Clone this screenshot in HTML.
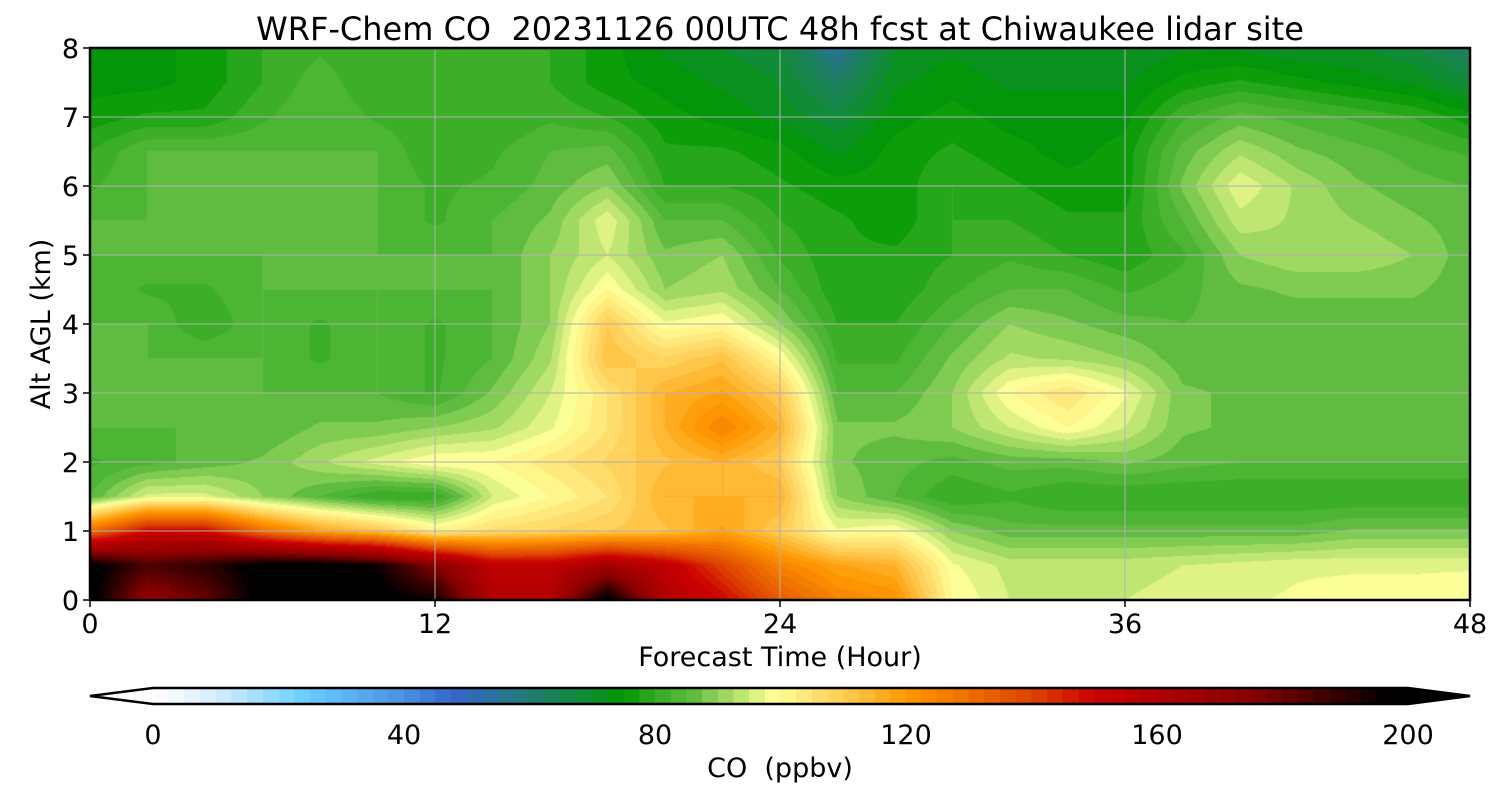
<!DOCTYPE html>
<html><head><meta charset="utf-8"><style>
body{margin:0;background:#fff;width:1500px;height:800px;position:relative;overflow:hidden;font-family:"DejaVu Sans","Liberation Sans",sans-serif}
#plot{position:absolute;left:90px;top:48px}
svg{position:absolute;left:0;top:0;font-family:"DejaVu Sans","Liberation Sans",sans-serif}
text{white-space:pre}
</style></head><body>
<canvas id="plot" width="1380" height="552"></canvas>
<svg id="ov" width="1500" height="800"></svg>
<script>
const hours=[0,2,4,6,8,10,12,14,16,18,20,22,24,26,28,30,32,34,36,38,40,42,44,46,48];
const heights=[0,0.5,1,1.5,2,2.5,3,3.5,4,4.5,5,5.5,6,6.5,7,7.5,8];
const coValues=[
[200,170,180,200,200,200,195,160,160,200,160,150,135,125,122,100,95,95,95,96,97,98,99,99,100],
[200,185,190,200,200,195,175,155,155,165,155,140,125,118,115,98,94,94,94,95,96,97,97,97,97],
[130,150,150,130,118,112,102,106,108,110,112,118,110,98,100,90,86,86,86,86,86,86,88,88,88],
[85,96,96,90,85,80,80,95,100,105,115,115,115,90,85,80,82,80,80,80,80,80,80,80,80],
[82,84,86,88,92,96,100,100,104,108,112,115,110,88,86,84,86,86,88,86,85,85,85,85,85],
[85,85,85,85,88,88,90,92,97,105,115,125,115,88,88,90,95,100,95,88,87,87,87,87,87],
[85,85,85,85,85,85,82,88,95,105,115,118,110,85,85,90,100,105,98,88,87,87,87,87,85],
[85,85,85,85,82,85,82,85,92,112,108,112,100,82,82,88,93,92,90,86,86,86,86,86,85],
[85,85,80,85,82,85,82,85,90,110,98,100,90,80,80,85,90,88,86,85,86,86,86,86,85],
[85,82,82,85,85,85,85,85,90,100,90,92,85,78,78,82,85,85,82,84,87,88,88,88,86],
[85,85,85,85,85,85,85,85,90,95,88,90,82,78,78,80,82,80,78,82,90,92,92,90,86],
[85,85,85,85,85,85,82,85,88,97,85,85,80,78,76,80,80,78,78,85,94,92,90,88,86],
[82,85,85,85,85,85,82,83,86,90,80,80,78,76,76,80,78,76,76,88,97,92,88,86,85],
[80,85,85,85,85,85,80,82,85,86,78,78,76,72,76,78,76,74,76,86,92,88,86,84,82],
[76,78,78,82,85,82,80,80,82,80,76,74,72,68,74,76,74,74,74,82,86,84,82,80,76],
[74,74,76,80,84,80,82,80,80,76,74,72,70,62,72,74,72,72,72,76,78,76,74,72,68],
[74,74,76,80,82,80,82,80,80,76,72,70,68,55,70,72,70,70,70,72,72,70,70,68,62]];
const xTicks=[0,12,24,36,48];
const yTicks=[0,1,2,3,4,5,6,7,8];
const cbTicks=[0,40,80,120,160,200];
const levelStep=2.5;
const stops=[[0,'#ffffff'],[10,'#d4eefc'],[25,'#66ccff'],[40,'#4a90e0'],[48,'#3366cc'],[60,'#237a70'],[68,'#128a3c'],[75,'#009900'],[80,'#33aa22'],[86,'#5dbb3f'],[92,'#aadd66'],[99,'#ffff99'],[110,'#ffcc55'],[120,'#ff9900'],[140,'#dd4400'],[150,'#cc0000'],[175,'#880000'],[197,'#000000'],[200,'#000000']];
function hex(c){return [parseInt(c.slice(1,3),16),parseInt(c.slice(3,5),16),parseInt(c.slice(5,7),16)];}
const st=stops.map(s=>[s[0],hex(s[1])]);
function cmap(v){v=Math.max(0,Math.min(200,v));for(let i=0;i<st.length-1;i++){if(v<=st[i+1][0]){const t=(v-st[i][0])/(st[i+1][0]-st[i][0]);return st[i][1].map((a,k)=>Math.round(a+(st[i+1][1][k]-a)*t));}}return st[st.length-1][1];}
const X0=90,X1=1470,Y0=600,Y1=48;
const xs=h=>X0+(h-0)/(48)*(X1-X0);
const ys=k=>Y0-(k/8)*(Y0-Y1);
const cv=document.getElementById('plot'),ctx=cv.getContext('2d');
const W=cv.width,H=cv.height,img=ctx.createImageData(W,H);
function interp(h,z){let i=0;while(i<hours.length-2&&h>hours[i+1])i++;let j=0;while(j<heights.length-2&&z>heights[j+1])j++;
const tx=(h-hours[i])/(hours[i+1]-hours[i]),ty=(z-heights[j])/(heights[j+1]-heights[j]);
const a=coValues[j][i],b=coValues[j][i+1],c=coValues[j+1][i],d=coValues[j+1][i+1];
return (a*(1-tx)+b*tx)*(1-ty)+(c*(1-tx)+d*tx)*ty;}
for(let py=0;py<H;py++){const z=(Y0-(py+48)-0.5)/(Y0-Y1)*8;
for(let px=0;px<W;px++){const h=(px+0.5)/(X1-X0)*48;let v=interp(h,z);
v=(Math.floor(v/levelStep)+0.5)*levelStep;const c=cmap(v);const o=(py*W+px)*4;
img.data[o]=c[0];img.data[o+1]=c[1];img.data[o+2]=c[2];img.data[o+3]=255;}}
ctx.putImageData(img,0,0);
const ov=document.getElementById('ov');const NS='http://www.w3.org/2000/svg';
function mk(t,a,txt){const e=document.createElementNS(NS,t);for(const k in a)e.setAttribute(k,a[k]);if(txt!==undefined)e.textContent=txt;ov.appendChild(e);return e;}
xTicks.forEach(t=>{const g=mk('line',{x1:xs(t),x2:xs(t),y1:Y1,y2:Y0,stroke:'#b0b0b0','stroke-width':1});


const tk=mk('line',{x1:xs(t),x2:xs(t),y1:Y0,y2:Y0+7,stroke:'#000','stroke-width':1.5});


const l=mk('text',{x:xs(t),y:Y0+33,'font-size':27,'text-anchor':'middle'},t);

});
yTicks.forEach(t=>{const g=mk('line',{x1:X0,x2:X1,y1:ys(t),y2:ys(t),stroke:'#b0b0b0','stroke-width':1});


const tk=mk('line',{x1:X0-7,x2:X0,y1:ys(t),y2:ys(t),stroke:'#000','stroke-width':1.5});


const l=mk('text',{x:X0-11,y:ys(t)+10,'font-size':27,'text-anchor':'end'},t);

});
const fr=mk('rect',{x:X0,y:Y1,width:X1-X0,height:Y0-Y1,fill:'none',stroke:'#000','stroke-width':2.5});


const ti=mk('text',{x:780,y:40,'font-size':32,'text-anchor':'middle'},'WRF-Chem CO  20231126 00UTC 48h fcst at Chiwaukee lidar site');


const xt=mk('text',{x:780,y:666,'font-size':27,'text-anchor':'middle'},'Forecast Time (Hour)');


const yt=mk('text',{x:50,y:324,'font-size':27,'text-anchor':'middle',transform:'rotate(-90 50 324)'},'Alt AGL (km)');


const C0=153,C1=1408,CT=688,CB=704;const cx=v=>C0+v/200*(C1-C0);
for(let v=0;v<200;v+=levelStep){const c=cmap(v+levelStep/2);
const r=mk('rect',{x:cx(v),y:CT,width:cx(v+levelStep)-cx(v)+0.6,height:CB-CT,fill:'rgb('+c.join(',')+')'});

}
const lt=mk('polygon',{points:`${C0},${CT} 90,${(CT+CB)/2} ${C0},${CB}`,fill:'#fff'});


const rt=mk('polygon',{points:`${C1},${CT} 1470,${(CT+CB)/2} ${C1},${CB}`,fill:'#000'});


const cbo=mk('polygon',{points:`${C0},${CT} ${C1},${CT} 1470,${(CT+CB)/2} ${C1},${CB} ${C0},${CB} 90,${(CT+CB)/2}`,fill:'none',stroke:'#000','stroke-width':2.5});


cbTicks.forEach(t=>{const l=mk('text',{x:cx(t),y:744,'font-size':27,'text-anchor':'middle'},t);

});
const cl=mk('text',{x:780,y:777,'font-size':27,'text-anchor':'middle'},'CO  (ppbv)');


</script>
</body></html>
